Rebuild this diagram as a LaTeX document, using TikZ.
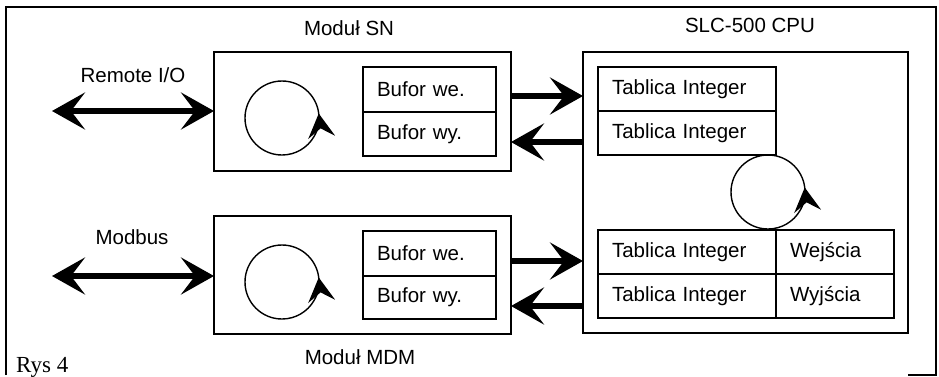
\documentclass[tikz,border=0pt]{standalone}
\usepackage{fontspec}
\setmainfont{Liberation Sans}
\newfontfamily\serifrm{Liberation Serif}
\usetikzlibrary{arrows.meta}
\begin{document}
\begin{tikzpicture}[x=1pt,y=-1pt,
  every node/.style={font=\fontsize{20.5}{23}\selectfont},
  box/.style={draw, line width=1.3pt, anchor=north west, inner sep=0pt, outer sep=0pt},
  cell/.style={draw, line width=1.3pt, anchor=north west, inner ysep=0pt, inner xsep=14pt, outer sep=0pt, align=left},
  bigtip/.tip={Stealth[length=33pt,width=37pt,inset=14pt]},
  bigarrow/.style={line width=5.5pt, -bigtip},
  dblarrow/.style={line width=5.5pt, bigtip-bigtip},
  cyc/.style={line width=1.4pt, -{Stealth[length=24pt,width=27pt,inset=9pt]}},
  lbl/.style={inner sep=0pt}
]
\useasboundingbox (0,0) rectangle (939,376);
% outer frame
\draw[line width=1.2pt] (6,375) -- (6,7) -- (936,7) -- (936,375) -- (908,375);

% module SN
\node[box, minimum width=297pt, minimum height=119pt] (sn) at (214,52) {};
\node[cell, minimum height=45pt, text width=105pt] (snin) at (363,67) {Bufor we.};
\node[cell, minimum height=44pt, text width=105pt] (snout) at (363,112) {Bufor wy.};
\node[lbl] (snlbl) at (349,28) {Moduł SN};

% module MDM
\node[box, minimum width=297pt, minimum height=118pt] (mdm) at (214,216) {};
\node[cell, minimum height=45pt, text width=105pt] (mdmin) at (363,231) {Bufor we.};
\node[cell, minimum height=43pt, text width=105pt] (mdmout) at (363,276) {Bufor wy.};
\node[lbl] (mdmlbl) at (360,357) {Moduł MDM};

% CPU
\node[box, minimum width=325pt, minimum height=281pt] (cpu) at (583,52) {};
\node[lbl] (cpulbl) at (750,25) {SLC-500 CPU};
\node[cell, minimum height=44pt, text width=150pt] (t1) at (598,67) {Tablica Integer};
\node[cell, minimum height=44pt, text width=150pt] (t2) at (598,111) {Tablica Integer};
\node[cell, minimum height=44pt, text width=150pt] (t3) at (598,230) {Tablica Integer};
\node[cell, minimum height=44pt, text width=150pt] (t4) at (598,274) {Tablica Integer};
\node[cell, minimum height=44pt, text width=90pt] (we) at (776,230) {Wejścia};
\node[cell, minimum height=44pt, text width=90pt] (wy) at (776,274) {Wyjścia};

% cycle circles
\coordinate (csn) at (282,118);
\coordinate (cmdm) at (282,282);
\coordinate (ccpu) at (768,192);
\foreach \c in {csn,cmdm,ccpu}
  \draw[cyc] (\c) ++(0:37) arc[start angle=0, end angle=-367, radius=37];

% external links
\node[lbl] (rio) at (133,75) {Remote I/O};
\node[lbl] (mb) at (132,237) {Modbus};
\coordinate (rioend) at (52,111);
\coordinate (mbend) at (52,276);
\draw[dblarrow] (rioend) -- (sn.west |- rioend);
\draw[dblarrow] (mbend) -- (mdm.west |- mbend);

% module <-> CPU
\draw[bigarrow] (sn.east |- 0,96) -- (cpu.west |- 0,96);
\draw[bigarrow] (cpu.west |- 0,142) -- (sn.east |- 0,142);
\draw[bigarrow] (mdm.east |- 0,261) -- (cpu.west |- 0,261);
\draw[bigarrow] (cpu.west |- 0,306) -- (mdm.east |- 0,306);

\node[anchor=base west, inner sep=0pt, font=\serifrm\fontsize{23}{26}\selectfont] (rys) at (16,372) {Rys 4};
\end{tikzpicture}
\end{document}
